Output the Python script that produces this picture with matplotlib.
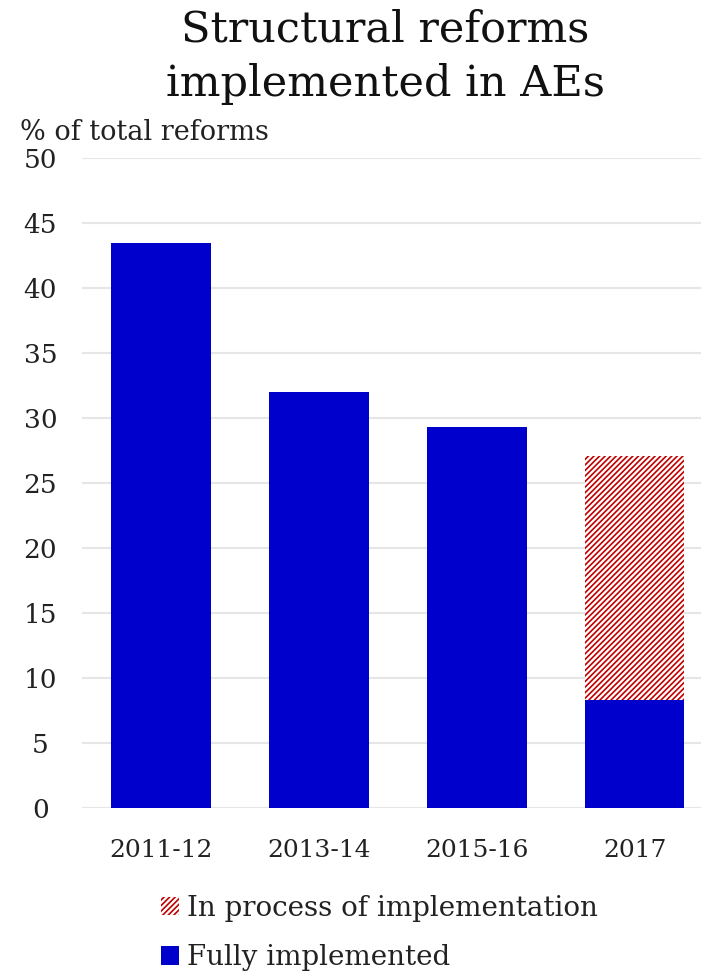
import matplotlib
matplotlib.use("Agg")
import matplotlib.pyplot as plt
from matplotlib.patches import Patch

periods = ["2011-12", "2013-14", "2015-16", "2017"]
fully_implemented = [43.5, 32.0, 29.3, 8.3]
in_process = [0, 0, 0, 18.8]
y_ticks = [0, 5, 10, 15, 20, 25, 30, 35, 40, 45, 50]

BLUE = "#0000CC"
RED = "#C00000"

plt.rcParams["font.family"] = ["DejaVu Serif"]
plt.rcParams["hatch.linewidth"] = 1.2
plt.rcParams["hatch.color"] = RED

W, H = 701, 977
fig = plt.figure(figsize=(W / 100, H / 100), dpi=100)
ax = fig.add_axes([82 / W, 1 - 808 / H, 1 - 82 / W, 650 / H])

x = list(range(len(periods)))
ax.bar(x, fully_implemented, width=0.63, color=BLUE, zorder=2)
ax.bar(x[3:], in_process[3:], bottom=fully_implemented[3:], width=0.63,
       facecolor="white", edgecolor=RED, hatch="//////", linewidth=0, zorder=2)

ax.set_ylim(0, 50)
ax.set_xlim(-0.5, 3.42)
ax.set_yticks(y_ticks)
ax.set_xticks(x)
ax.set_xticklabels(periods, fontsize=18, color="#222222")
ax.tick_params(axis="x", length=0, pad=22)
ax.tick_params(axis="y", length=0, pad=30, labelsize=19, labelcolor="#222222")
for lbl in ax.get_yticklabels():
    lbl.set_horizontalalignment("center")
ax.grid(axis="y", color="#e6e6e6", linewidth=1.5, zorder=0)
for s in ax.spines.values():
    s.set_visible(False)

fig.text(385 / W, 1 - 30 / H, "Structural reforms", ha="center", va="center",
         fontsize=31, color="#111111")
fig.text(385 / W, 1 - 84 / H, "implemented in AEs", ha="center", va="center",
         fontsize=31, color="#111111")
fig.text(20 / W, 1 - 133 / H, "% of total reforms", ha="left", va="center",
         fontsize=19.5, color="#222222")

handles = [
    Patch(facecolor="white", edgecolor=RED, hatch="//////", linewidth=0,
          label="In process of implementation"),
    Patch(facecolor=BLUE, label="Fully implemented"),
]
fig.legend(handles=handles, loc="center left",
           bbox_to_anchor=(136 / W, 1 - 933 / H), frameon=False,
           fontsize=20, handlelength=0.65, handleheight=0.65,
           handletextpad=0.3, labelspacing=0.8, labelcolor="#222222")

fig.savefig("out.png", dpi=100, facecolor="white")
